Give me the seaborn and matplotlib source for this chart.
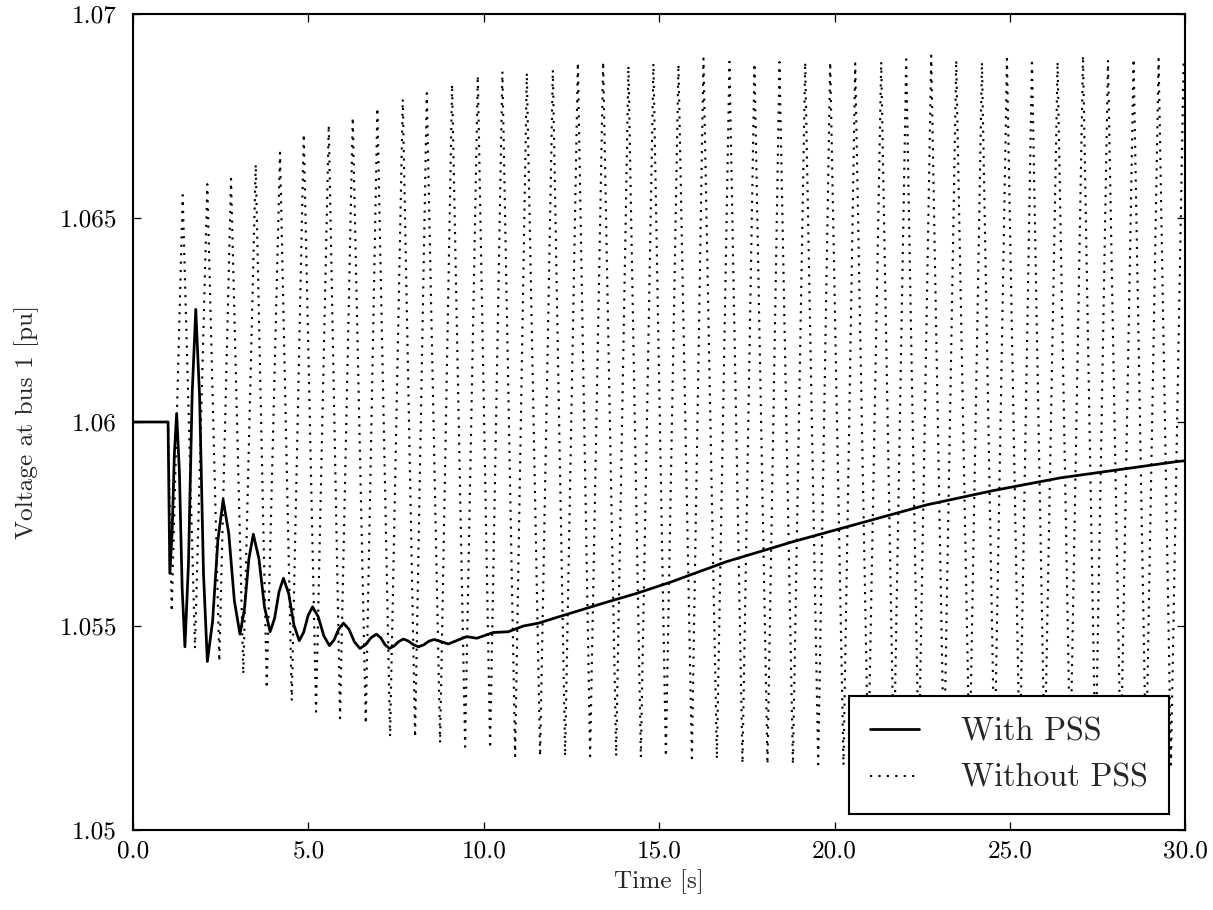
import numpy as np
import pandas as pd
import matplotlib
matplotlib.use("Agg")
import matplotlib.pyplot as plt
import seaborn as sns

# --- With PSS (solid), peaks / troughs, flanks and the slow rise
t_pss = [0.0, 1.0, 1.05, 1.115, 1.18, 1.245, 1.323, 1.402, 1.48, 1.583, 1.687,
         1.79, 1.90, 2.01, 2.12, 2.27, 2.42, 2.57, 2.73, 2.89, 3.05, 3.177, 3.303,
         3.43, 3.59, 3.75, 3.91, 4.037, 4.163, 4.29, 4.44, 4.59, 4.74, 4.867, 4.993,
         5.12, 5.28, 5.44, 5.60, 5.733, 5.867, 6.00, 6.157, 6.313, 6.47, 6.627,
         6.783, 6.94, 7.063, 7.187, 7.31, 7.443, 7.577, 7.71, 7.853, 7.997, 8.14,
         8.29, 8.44, 8.59, 8.99, 9.51, 9.80, 10.27, 10.70, 11.13, 11.56, 12.08,
         12.46, 13.41, 14.36, 15.31, 16.93, 18.83, 20.73, 22.63, 24.53, 26.43,
         28.34, 29.76, 30.0]
v_pss = [1.0600, 1.0600, 1.05629, 1.05727, 1.05923, 1.06021, 1.05878, 1.05592,
         1.05449, 1.05656, 1.06069, 1.06276, 1.06060, 1.05629, 1.05413, 1.05512,
         1.05710, 1.05809, 1.05727, 1.05562, 1.05480, 1.05541, 1.05664, 1.05725,
         1.05665, 1.05546, 1.05486, 1.05519, 1.05584, 1.05617, 1.05579, 1.05502,
         1.05464, 1.05485, 1.05526, 1.05547, 1.05523, 1.05476, 1.05452, 1.05466,
         1.05493, 1.05507, 1.05492, 1.05461, 1.05445, 1.05454, 1.05471, 1.05480,
         1.05471, 1.05454, 1.05445, 1.05451, 1.05462, 1.05468, 1.05463, 1.05454,
         1.05449, 1.05454, 1.05463, 1.05467, 1.05456, 1.05474, 1.05470, 1.05484,
         1.05486, 1.05500, 1.05507, 1.05521, 1.05531, 1.05556, 1.05580, 1.05607,
         1.05658, 1.05707, 1.05752, 1.05797, 1.05832, 1.05863, 1.05886, 1.05903,
         1.05905]

# --- Without PSS (dotted): peak and trough times / values
peak_t = [1.417, 2.119, 2.795, 3.499, 4.192, 4.868, 5.581, 6.265, 6.967, 7.691,
          8.376, 9.097, 9.830, 10.531, 11.227, 11.969, 12.682, 13.403, 14.124,
          14.837, 15.550, 16.263, 17.004, 17.717, 18.430, 19.163, 19.876, 20.589,
          21.330, 22.043, 22.756, 23.469, 24.202, 24.915, 25.628, 26.358, 27.082,
          27.795, 28.525, 29.238, 29.951]
peak_v = [1.06556, 1.06583, 1.06596, 1.06632, 1.06660, 1.06706, 1.06728, 1.06747,
          1.06770, 1.06791, 1.06806, 1.06828, 1.06849, 1.06859, 1.06856, 1.06863,
          1.06881, 1.06883, 1.06873, 1.06879, 1.06877, 1.06891, 1.06883, 1.06879,
          1.06882, 1.06882, 1.06882, 1.06879, 1.06883, 1.06889, 1.06898, 1.06887,
          1.06882, 1.06890, 1.06890, 1.06883, 1.06898, 1.06887, 1.06890, 1.06890,
          1.06883]
trough_t = [1.104, 1.768, 2.461, 3.145, 3.813, 4.526, 5.219, 5.903, 6.636, 7.329,
            8.042, 8.755, 9.468, 10.181, 10.894, 11.606, 12.319, 13.032, 13.774,
            14.478, 15.191, 15.932, 16.645, 17.375, 18.088, 18.813, 19.534, 20.255,
            20.96, 21.69, 22.40, 23.12, 23.85, 24.56, 25.28, 25.99, 26.72, 27.44,
            28.16, 28.88, 29.59]
trough_v = [1.05535, 1.05445, 1.05413, 1.05382, 1.05347, 1.05317, 1.05290, 1.05274,
            1.05260, 1.05229, 1.05227, 1.05214, 1.05204, 1.05200, 1.05181, 1.05181,
            1.05181, 1.05181, 1.05181, 1.05178, 1.05180, 1.05176, 1.05174, 1.05163,
            1.05161, 1.05161, 1.05161, 1.05159, 1.05160, 1.05160, 1.05160, 1.05160,
            1.05160, 1.05160, 1.05160, 1.05160, 1.05160, 1.05160, 1.05160, 1.05160,
            1.05160]
pre_t = [0.0, 1.0]
pre_v = [1.06, 1.06]

x_ticks = [0, 5, 10, 15, 20, 25, 30]
x_labels = ["0.0", "5.0", "10.0", "15.0", "20.0", "25.0", "30.0"]
y_ticks = [1.05, 1.055, 1.06, 1.065, 1.07]
y_labels = ["1.05", "1.055", "1.06", "1.065", "1.07"]

osc = pd.DataFrame({"t": pre_t + peak_t + trough_t,
                    "v": pre_v + peak_v + trough_v}).sort_values("t")
pss = pd.DataFrame({"t": t_pss, "v": v_pss})

sns.set_style("ticks")
plt.rcParams["font.family"] = ["cmr10", "DejaVu Serif"]
plt.rcParams["mathtext.fontset"] = "cm"
plt.rcParams["axes.unicode_minus"] = False

fig = plt.figure(figsize=(8, 6), dpi=151.67)
ax = fig.add_axes([0.1096, 0.0879, 0.8673, 0.8967])

sns.lineplot(data=pss, x="t", y="v", ax=ax, color="black", lw=1.3,
             estimator=None, sort=False, label="With PSS")
sns.lineplot(data=osc, x="t", y="v", ax=ax, color="black", lw=1.0,
             linestyle=(0, (1, 3)), estimator=None, sort=False,
             label="Without PSS")

ax.set_xlim(0, 30)
ax.set_ylim(1.05, 1.07)
ax.set_xticks(x_ticks, x_labels)
ax.set_yticks(y_ticks, y_labels)
ax.tick_params(direction="in", top=True, right=True, length=8 / 2.1,
               width=0.6, labelsize=12, colors="black")
ax.tick_params(axis="y", pad=7.5)
ax.tick_params(axis="x", pad=5)
for s in ax.spines.values():
    s.set_linewidth(1.0)
    s.set_color("black")
ax.set_xlabel("Time [s]", fontsize=12, labelpad=3)
ax.set_ylabel("Voltage at bus 1 [pu]", fontsize=12, labelpad=10)

leg = ax.legend(loc="lower right", fontsize=15.3, handlelength=1.55,
                handletextpad=1.3, borderpad=0.65, borderaxespad=0.5,
                labelspacing=0.55, fancybox=False, framealpha=1,
                edgecolor="black")
leg.get_frame().set_linewidth(1.0)

fig.savefig("out.png", dpi=151.67)
